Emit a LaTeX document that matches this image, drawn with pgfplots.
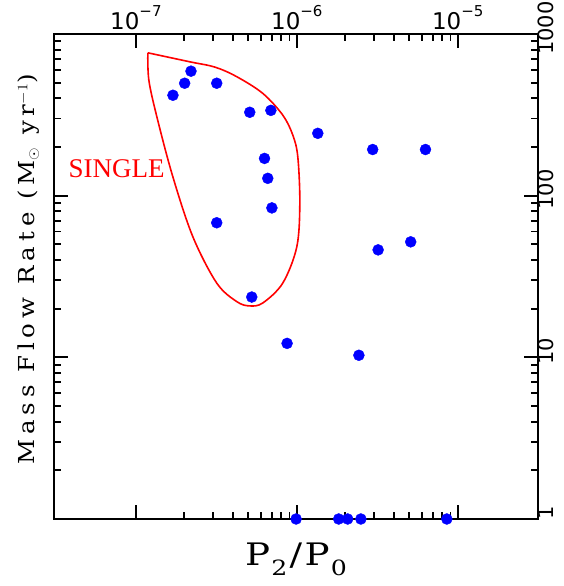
\documentclass[border=0pt]{standalone}
\usepackage{fontspec}
\usepackage{pgfplots}
\pgfplotsset{compat=1.18}
\newfontfamily\tickfont{DejaVu Sans}
\newfontfamily\labfont{DejaVu Serif}
\newfontfamily\ylabfont[LetterSpace=20]{DejaVu Serif}
\newfontfamily\timesfont{Liberation Serif}
\definecolor{ptblue}{RGB}{0,0,255}
\definecolor{ptred}{RGB}{255,0,0}
\newcommand{\tl}[1]{\mbox{\tickfont\fontsize{23}{23}\selectfont 10\raisebox{0.55em}{\fontsize{15}{15}\selectfont #1}}}
\newcommand{\yl}[1]{\mbox{\tickfont\fontsize{21}{21}\selectfont #1}}
\newcommand{\sub}[1]{\raisebox{-0.32em}{\fontsize{21}{21}\selectfont #1}}

\begin{document}
\begin{tikzpicture}
\path[use as bounding box] (-54pt,-67pt) rectangle (510pt,519pt);
\begin{axis}[
  at={(0pt,0pt)}, anchor=south west,
  scale only axis, width=484pt, height=485pt,
  xmode=log, ymode=log,
  xmin=3.1e-8, xmax=3.15e-5, ymin=1, ymax=1000,
  axis line style={line width=2.6pt},
  every tick/.style={black, line width=1.8pt},
  major tick length=14pt, minor tick length=7pt,
  tick align=inside,
  xtick={1e-7,1e-6,1e-5},
  xticklabels={\tl{−7},\tl{−6},\tl{−5}},
  xticklabel pos=right, xtick pos=both,
  xticklabel style={anchor=south, inner sep=0pt, yshift=4pt},
  ytick={1,10,100,1000}, yticklabels={\yl{1},\yl{10},\yl{100},\yl{1000}},
  yticklabel pos=right, ytick pos=both,
  yticklabel style={rotate=90, anchor=north, inner sep=0pt, xshift=6pt},
  xlabel={\scalebox{1.2}[1]{P\kern1pt\sub{2}\kern2pt/\kern2pt P\kern1pt\sub{0}}},
  xlabel style={at={(axis description cs:0.5,-0.0495)}, anchor=north, inner sep=0pt,
    font=\labfont\fontsize{31}{31}\selectfont},
  ylabel={\scalebox{1.11}[1]{Mass Flow Rate (M$_\odot$ yr$^{-1}$)}},
  ylabel style={at={(axis description cs:-0.029,0.515)}, anchor=south, inner sep=0pt,
    font=\ylabfont\fontsize{22}{22}\selectfont},
  clip=false,
]
\addplot[ptred, line width=1.6pt, smooth, tension=0.55] coordinates {
  (1.187e-7,765) (2.164e-7,673) (3.10e-7,624) (4.24e-7,544) (6.15e-7,429)
  (8.18e-7,315) (9.44e-7,237) (1.014e-6,174) (1.044e-6,90) (1.0e-6,48.3)
  (8.18e-7,28.8) (6.15e-7,21.7) (5.10e-7,20.8) (4.24e-7,22.1) (3.18e-7,28.8)
  (2.26e-7,55.7) (1.697e-7,131) (1.35e-7,308) (1.204e-7,519) (1.187e-7,765)
};
\addplot[only marks, mark=*, mark size=5.5pt, mark options={draw=ptblue, fill=ptblue}] coordinates {
  (1.70e-7,418) (2.01e-7,496) (2.20e-7,589) (3.18e-7,496) (5.1e-7,328)
  (6.9e-7,337) (1.35e-6,243) (2.96e-6,193) (6.3e-6,193) (6.3e-7,170)
  (6.6e-7,128) (7.0e-7,84) (3.18e-7,68) (5.1e-6,51.8) (3.2e-6,46.2)
  (5.25e-7,23.6) (8.7e-7,12.2) (2.43e-6,10.3)
  (9.9e-7,1) (1.82e-6,1) (2.07e-6,1) (2.5e-6,1) (8.55e-6,1)
};
\node[anchor=center, text=ptred, font=\timesfont\fontsize{27}{27}\selectfont, inner sep=0pt]
  at (axis cs:7.6e-8,147) {SINGLE};
\end{axis}
\end{tikzpicture}
\end{document}
